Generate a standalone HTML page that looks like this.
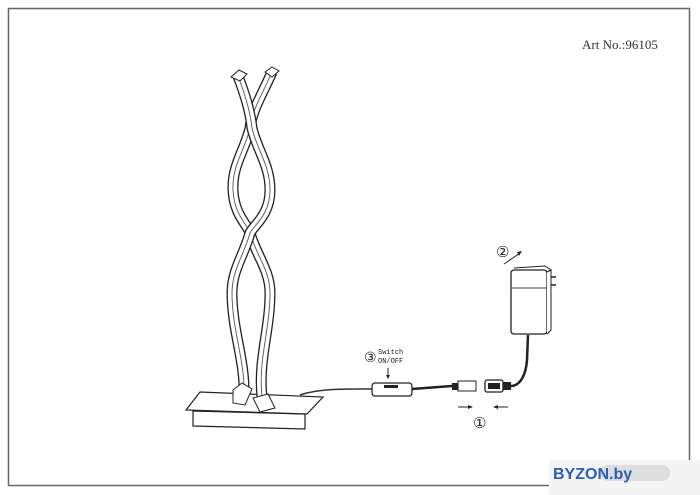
<!DOCTYPE html>
<html><head><meta charset="utf-8"><style>
html,body{margin:0;padding:0;background:#fff;width:700px;height:495px;overflow:hidden}
svg{display:block}
</style></head><body>
<svg width="700" height="495" viewBox="0 0 700 495" xmlns="http://www.w3.org/2000/svg">
<rect x="0" y="0" width="700" height="495" fill="#fff"/>
<rect x="8.5" y="8.5" width="681" height="477" fill="none" stroke="#666" stroke-width="1.5"/>
<text x="582" y="49" font-family="Liberation Serif, serif" font-size="13" fill="#333">Art No.:96105</text>

<!-- base -->
<polygon points="193,411 305,414 305,429 193,426" fill="#fff" stroke="#222" stroke-width="1.2"/>
<polygon points="200,392 323,397 307,414 186,410" fill="#fff" stroke="#222" stroke-width="1.2"/>
<path d="M300,395 C320,388 350,389 372,389" fill="none" stroke="#333" stroke-width="1.5"/>

<!-- ribbons -->
<g fill="none" stroke-linecap="butt">
<path d="M272,72 C262,95 252,110 250,128 C245,150 232,165 233,190 C234,215 248,225 250,233 C256,255 270,270 270,293 C270,330 258,360 262,397" stroke="#222" stroke-width="11"/>
<path d="M272,72 C262,95 252,110 250,128 C245,150 232,165 233,190 C234,215 248,225 250,233 C256,255 270,270 270,293 C270,330 258,360 262,397" stroke="#fff" stroke-width="8.4"/>
<path d="M272,72 C262,95 252,110 250,128 C245,150 232,165 233,190 C234,215 248,225 250,233 C256,255 270,270 270,293 C270,330 258,360 262,397" stroke="#555" stroke-width="0.9"/>
<path d="M238,76 C245,95 250,110 252,128 C257,150 270,165 270,190 C270,215 254,225 250,233 C244,255 232,270 232,293 C232,330 245,360 244,394" stroke="#222" stroke-width="11"/>
<path d="M238,76 C245,95 250,110 252,128 C257,150 270,165 270,190 C270,215 254,225 250,233 C244,255 232,270 232,293 C232,330 245,360 244,394" stroke="#fff" stroke-width="8.4"/>
<path d="M238,76 C245,95 250,110 252,128 C257,150 270,165 270,190 C270,215 254,225 250,233 C244,255 232,270 232,293 C232,330 245,360 244,394" stroke="#555" stroke-width="0.9"/>
</g>
<polygon points="231,77 239,70 247,74 240,81" fill="#fff" stroke="#222"/>
<polygon points="265,72 272,67 279,71 272,77" fill="#fff" stroke="#222"/>
<polygon points="233,390 242,383 252,389 245,405 233,403" fill="#fff" stroke="#222"/>
<polygon points="253,398 268,394 275,408 260,412" fill="#fff" stroke="#222"/>

<!-- switch -->
<rect x="372" y="383" width="40" height="13" rx="3" fill="#fff" stroke="#222" stroke-width="1.3"/>
<rect x="384" y="385" width="14" height="3" fill="#222"/>
<path d="M412,389 L452,386" stroke="#222" stroke-width="2.5"/>
<text x="364" y="362" font-family="Liberation Sans, sans-serif" font-size="14" fill="#222">③</text>
<text x="378" y="354" font-family="Liberation Mono, monospace" font-size="7" fill="#222">Switch</text>
<text x="378" y="363" font-family="Liberation Mono, monospace" font-size="7" fill="#222">ON/OFF</text>
<path d="M388,368 L388,377" stroke="#222"/><path d="M386,375 L388,379 L390,375Z" fill="#222"/>

<rect x="452" y="383" width="6" height="7" fill="#222"/>
<rect x="458" y="381" width="18" height="10" fill="#fff" stroke="#222"/>
<rect x="485" y="380" width="18" height="12" rx="2" fill="#fff" stroke="#222" stroke-width="1.3"/>
<rect x="488" y="383" width="12" height="6" fill="#222"/>
<rect x="503" y="382" width="8" height="8" fill="#222"/>
<path d="M511,386 C520,386 526,375 527,360 L528,335" fill="none" stroke="#222" stroke-width="2.5"/>
<path d="M458,407 L470,407" stroke="#222"/><path d="M468,405 L473,407 L468,409Z" fill="#222"/>
<path d="M496,407 L508,407" stroke="#222"/><path d="M498,405 L493,407 L498,409Z" fill="#222"/>
<text x="473" y="428" font-family="Liberation Sans, sans-serif" font-size="15" fill="#222">①</text>

<rect x="511" y="270" width="36" height="64" rx="3" fill="#fff" stroke="#222" stroke-width="1.3"/>
<path d="M514,268 L545,266 L551,270 L547,272" fill="none" stroke="#222"/>
<path d="M511,288 L547,288" stroke="#444"/>
<path d="M547,272 L551,270 L551,330 L547,334" fill="#fff" stroke="#222"/>
<path d="M551,277 L556,277 M551,285 L556,285" stroke="#222" stroke-width="1.5"/>
<text x="496" y="257" font-family="Liberation Sans, sans-serif" font-size="15" fill="#222">②</text>
<path d="M504,264 L520,253" stroke="#222"/><path d="M517,252 L522,251 L519,256Z" fill="#222"/>

<rect x="549" y="460" width="151" height="35" fill="#f4f4f4"/>
<rect x="600" y="465" width="70" height="16" rx="8" fill="#dedede"/>
<text x="553" y="479" font-family="Liberation Sans, sans-serif" font-size="16" font-weight="bold" fill="#2a5db8">BYZON.by</text>
</svg>
</body></html>
